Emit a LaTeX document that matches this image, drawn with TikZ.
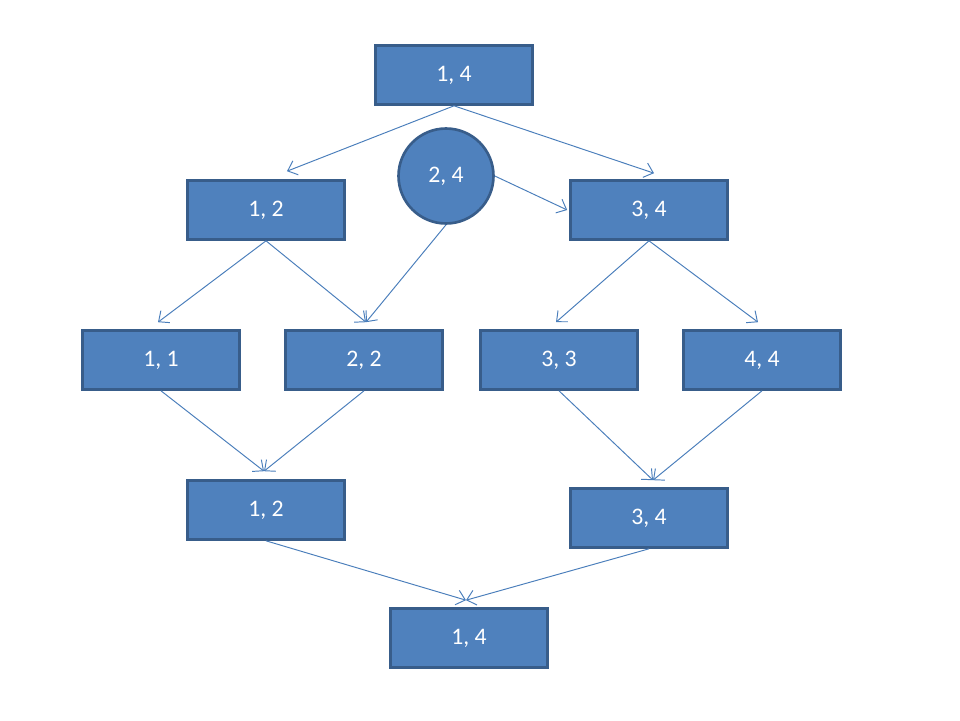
\documentclass[tikz,border=0pt]{standalone}
\usepackage{fontspec}
\setmainfont{Carlito}
\usetikzlibrary{arrows.meta}
\definecolor{boxfill}{HTML}{4F81BD}
\definecolor{boxline}{HTML}{385D8A}
\definecolor{arrowline}{HTML}{4A7EBB}
\begin{document}
\begin{tikzpicture}[x=0.02cm, y=-0.02cm,
    pair/.style={rectangle, draw=boxline, fill=boxfill, line width=1.5pt, minimum width=3.14cm, minimum height=1.18cm, text=white, font=\fontsize{13.5}{16}\selectfont},
    ring/.style={circle, draw=boxline, fill=boxfill, line width=1.5pt, minimum size=1.9cm, text=white, font=\fontsize{13.5}{16}\selectfont},
    link/.style={-{Straight Barb[length=0.17cm, width=0.3cm]}, draw=arrowline, line width=0.55pt}]
    \useasboundingbox (0,0) rectangle (960,720);

    % Nodes
    \node[pair] (top) at (454,75) {1, 4};
    \node[pair] (left) at (266,210) {1, 2};
    \node[ring] (mid) at (446,176) {2, 4};
    \node[pair] (right) at (649,210) {3, 4};
    \node[pair] (a11) at (161,360) {1, 1};
    \node[pair] (a22) at (364,360) {2, 2};
    \node[pair] (a33) at (559,360) {3, 3};
    \node[pair] (a44) at (762,360) {4, 4};
    \node[pair] (merge12) at (266,510) {1, 2};
    \node[pair] (merge34) at (649,518) {3, 4};
    \node[pair] (result) at (469,638) {1, 4};

    % Arrows, split
    \draw[link] (top.south) -- ([xshift=0.42cm, yshift=0.16cm]left.north);
    \draw[link] (top.south) -- ([xshift=0.1cm, yshift=0.12cm]right.north);
    \draw[link] (mid.south) -- ([xshift=0.04cm, yshift=0.14cm]a22.north);
    \draw[link] (mid.east) -- ([xshift=-0.04cm]right.west);
    \draw[link] (left.south) -- ([xshift=-0.06cm, yshift=0.14cm]a11.north);
    \draw[link] (left.south) -- ([xshift=0.04cm, yshift=0.14cm]a22.north);
    \draw[link] (right.south) -- ([xshift=-0.06cm, yshift=0.14cm]a33.north);
    \draw[link] (right.south) -- ([xshift=-0.08cm, yshift=0.14cm]a44.north);

    % Arrows, merge
    \draw[link] (a11.south) -- ([xshift=-0.04cm, yshift=0.16cm]merge12.north);
    \draw[link] (a22.south) -- ([xshift=-0.04cm, yshift=0.16cm]merge12.north);
    \draw[link] (a33.south) -- ([xshift=0.08cm, yshift=0.14cm]merge34.north);
    \draw[link] (a44.south) -- ([xshift=0.08cm, yshift=0.14cm]merge34.north);
    \draw[link] (merge12.south) -- ([xshift=-0.06cm, yshift=0.14cm]result.north);
    \draw[link] (merge34.south) -- ([xshift=-0.06cm, yshift=0.14cm]result.north);

\end{tikzpicture}
\end{document}
